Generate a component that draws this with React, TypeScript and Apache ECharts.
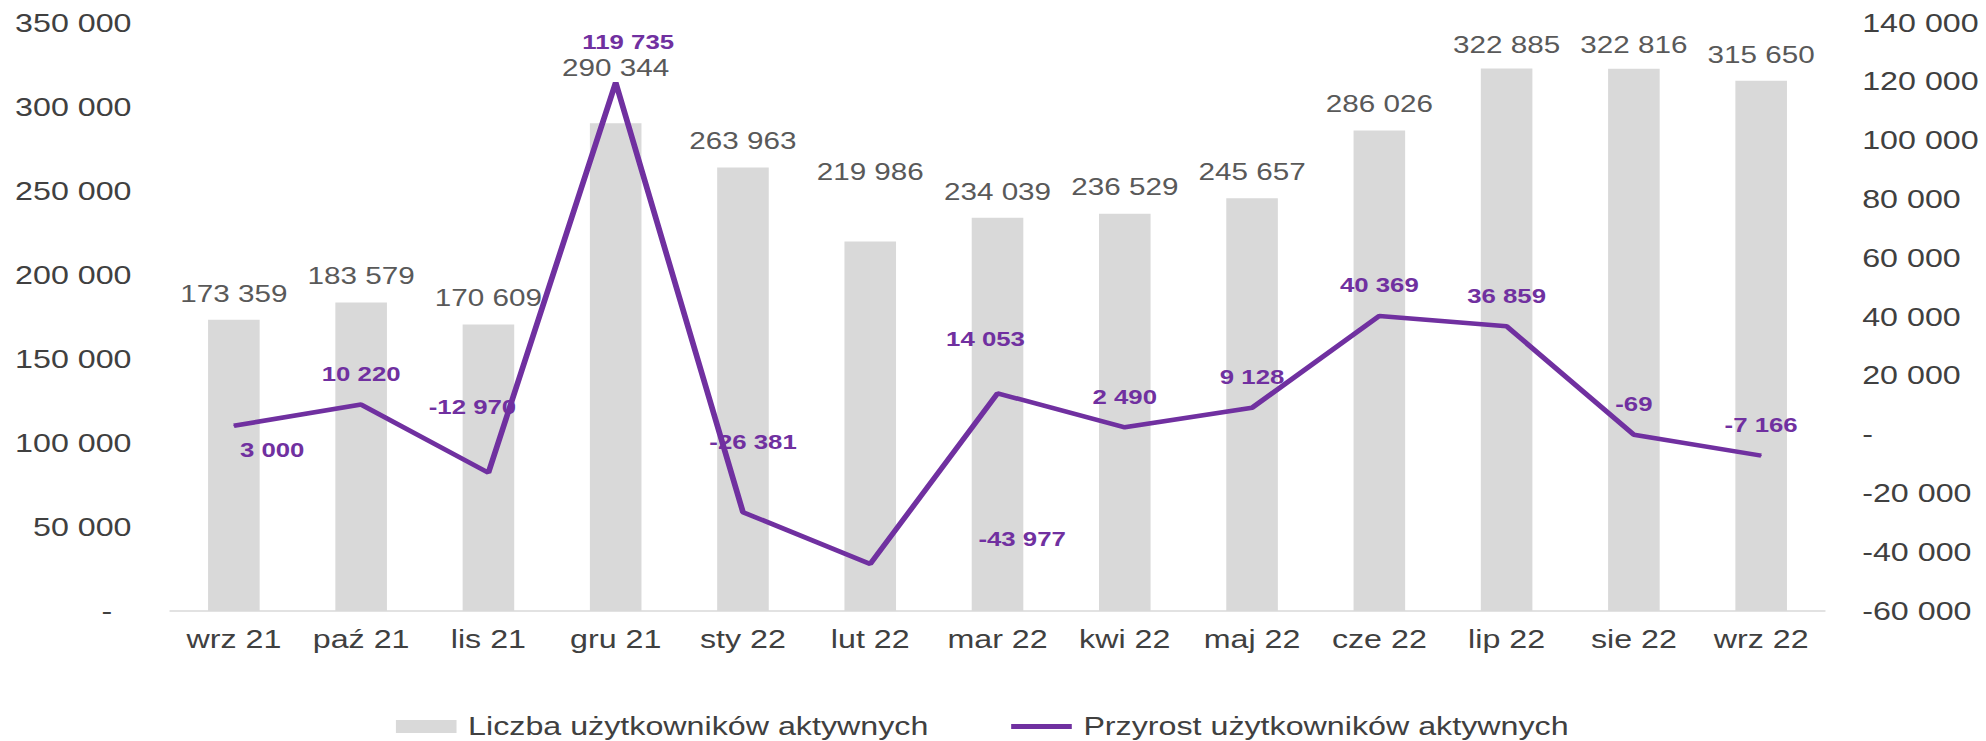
import React, { useEffect, useRef } from 'react';
import * as echarts from 'echarts';

// ---- data ----
const categories = ['wrz 21', 'paź 21', 'lis 21', 'gru 21', 'sty 22', 'lut 22', 'mar 22', 'kwi 22', 'maj 22', 'cze 22', 'lip 22', 'sie 22', 'wrz 22'];
const activeUsers = [173359, 183579, 170609, 290344, 263963, 219986, 234039, 236529, 245657, 286026, 322885, 322816, 315650];
const userGrowth = [3000, 10220, -12970, 119735, -26381, -43977, 14053, 2490, 9128, 40369, 36859, -69, -7166];
const seriesNames = ['Liczba użytkowników aktywnych', 'Przyrost użytkowników aktywnych'];
const leftTicks = { min: 0, max: 350000, interval: 50000 };
const rightTicks = { min: -60000, max: 140000, interval: 20000 };

// ---- layout (label nudges, px) ----
const barLabelNudge: [number, number][] = [
  [0, 0], [0, 0], [0, 0], [0, -29], [0, 0], [0, -43], [0, 0], [0, 0], [0, 0], [0, 0], [0, 3], [0, 3], [0, 0],
];
const lineLabelNudge: [number, number][] = [
  [29.7, 55], [0, 0], [-12.4, -35], [9.7, -10], [7.8, -40], [117.8, 6], [-9.3, -24], [0, 0], [0, 0], [0, 0], [0, 0], [0, 0], [0, 0],
];

const FULL_W = 1986;
const BASE_W = 1540;
const H = 741;
const S = FULL_W / BASE_W;
const FONT = '"Liberation Sans", Arial, sans-serif';
const PURPLE = '#7030A0';
const BAR = '#D9D9D9';
const AXIS_TXT = '#404040';
const LABEL_TXT = '#595959';

function fmt(v: number): string {
  const sign = v < 0 ? '-' : '';
  const s = Math.abs(Math.round(v)).toString().replace(/\B(?=(\d{3})+(?!\d))/g, ' ');
  return sign + s;
}

export default function App() {
  const ref = useRef<HTMLDivElement>(null);
  useEffect(() => {
    document.body.style.margin = '0';
    if (!ref.current) return;
    const chart = echarts.init(ref.current, null, { renderer: 'svg' });
    const option: any = {
      animation: false,
      backgroundColor: '#ffffff',
      textStyle: { fontFamily: FONT },
      grid: { left: 132, right: 125, top: 23, bottom: 130, containLabel: false },
      legend: {
        left: 302,
        top: 709,
        itemWidth: 47,
        itemHeight: 13,
        itemGap: 64,
        textStyle: { fontSize: 25, color: AXIS_TXT, fontFamily: FONT, padding: [0, 0, 0, 4] },
        data: [
          { name: seriesNames[0], icon: 'rect' },
          { name: seriesNames[1], icon: 'path://M0 0H47V5H0Z' },
        ],
      },
      xAxis: {
        type: 'category',
        data: categories,
        boundaryGap: true,
        axisTick: { show: false },
        axisLine: { lineStyle: { color: BAR, width: 1.5 } },
        axisLabel: { interval: 0, fontSize: 25, color: AXIS_TXT, margin: 16, fontFamily: FONT },
      },
      yAxis: [
        {
          type: 'value',
          min: leftTicks.min,
          max: leftTicks.max,
          interval: leftTicks.interval,
          splitLine: { show: false },
          axisLine: { show: false },
          axisTick: { show: false },
          axisLabel: {
            fontSize: 25,
            color: AXIS_TXT,
            margin: 30,
            fontFamily: FONT,
            formatter: (v: number) => (v === 0 ? '{z|-}' : fmt(v)),
            rich: { z: { fontSize: 25, color: AXIS_TXT, padding: [0, 15, 0, 0], fontFamily: FONT } },
          },
        },
        {
          type: 'value',
          min: rightTicks.min,
          max: rightTicks.max,
          interval: rightTicks.interval,
          splitLine: { show: false },
          axisLine: { show: false },
          axisTick: { show: false },
          axisLabel: {
            fontSize: 25,
            color: AXIS_TXT,
            margin: 29,
            fontFamily: FONT,
            formatter: (v: number) => (v === 0 ? '-' : fmt(v)),
          },
        },
      ],
      series: [
        {
          name: seriesNames[0],
          type: 'bar',
          yAxisIndex: 0,
          barWidth: 40,
          itemStyle: { color: BAR },
          data: activeUsers.map((v, i) => ({ value: v, label: { offset: barLabelNudge[i] } })),
          label: {
            show: true,
            position: 'top',
            distance: 14.5,
            fontSize: 23,
            color: LABEL_TXT,
            fontFamily: FONT,
            formatter: (p: any) => fmt(p.value),
          },
        },
        {
          name: seriesNames[1],
          type: 'line',
          yAxisIndex: 1,
          symbol: 'circle',
          symbolSize: 1,
          itemStyle: { color: PURPLE },
          lineStyle: { color: PURPLE, width: 4.5 },
          z: 5,
          data: userGrowth.map((v, i) => ({ value: v, label: { offset: lineLabelNudge[i] } })),
          label: {
            show: true,
            position: 'top',
            distance: 20,
            fontSize: 20,
            fontWeight: 'bold',
            color: PURPLE,
            fontFamily: FONT,
            formatter: (p: any) => fmt(p.value),
          },
        },
      ],
    };
    chart.setOption(option);
    return () => chart.dispose();
  }, []);
  return (
    <div
      ref={ref}
      style={{
        position: 'absolute',
        left: 0,
        top: 0,
        width: BASE_W,
        height: H,
        transform: `scaleX(${S})`,
        transformOrigin: '0 0',
      }}
    />
  );
}
